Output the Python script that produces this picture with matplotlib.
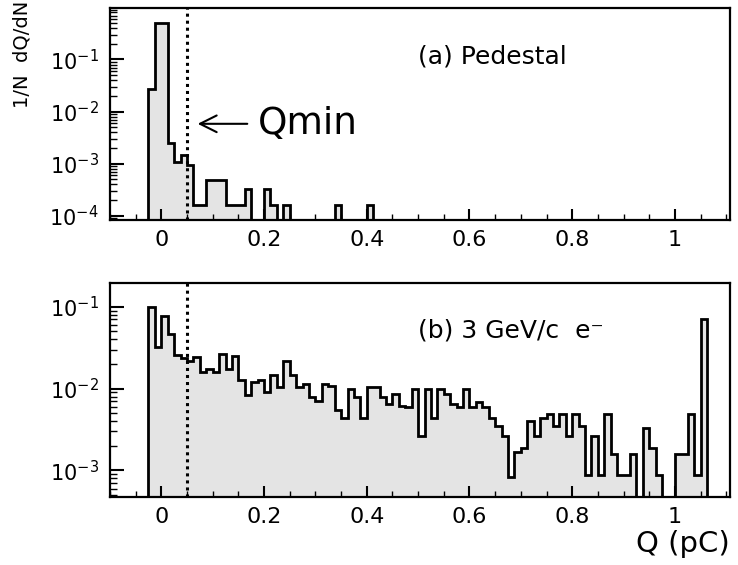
import numpy as np
import matplotlib.pyplot as plt
from matplotlib.ticker import LogLocator, MultipleLocator, NullFormatter, LogFormatterSciNotation

# histogram binning (pC)
q_start = -0.025
bin_width = 0.0125

# (a) pedestal run, 1/N dQ/dN per bin
pedestal = [0.0265, 0.51, 0.51, 0.0025, 0.00105, 0.00148, 0.00095, 1.6e-4, 1.6e-4, 4.9e-4,
            4.9e-4, 4.9e-4, 1.6e-4, 1.6e-4, 1.6e-4, 3.2e-4, 0, 0, 3.2e-4, 1.6e-4,
            0, 1.6e-4, 0, 0, 0, 0, 0, 0, 0, 1.6e-4,
            0, 0, 0, 0, 1.6e-4, 0, 0, 0, 0, 0,
            0, 0, 0, 0, 0, 0, 0, 0, 0, 0,
            0, 0, 0, 0, 0, 0, 0, 0, 0, 0,
            0, 0, 0, 0, 0, 0, 0, 0, 0, 0,
            0, 0, 0, 0, 0, 0, 0, 0, 0, 0,
            0, 0, 0, 0, 0, 0, 0]

# (b) 3 GeV/c electrons
electron = [0.099, 0.032, 0.078, 0.046, 0.0256, 0.0235, 0.022, 0.024, 0.0159, 0.0175,
            0.0159, 0.0268, 0.0175, 0.0249, 0.0126, 0.0084, 0.0120, 0.0126, 0.0090, 0.0145,
            0.0104, 0.022, 0.0145, 0.0104, 0.0114, 0.0080, 0.0071, 0.0114, 0.0109, 0.0054,
            0.0044, 0.0099, 0.0078, 0.0044, 0.0106, 0.0104, 0.0078, 0.0065, 0.0086, 0.0062,
            0.0059, 0.0099, 0.0026, 0.0099, 0.0044, 0.0099, 0.0086, 0.0065, 0.0059, 0.0099,
            0.0059, 0.0068, 0.0059, 0.0044, 0.0035, 0.0026, 0.00082, 0.0017, 0.0019, 0.0040,
            0.0026, 0.0044, 0.0049, 0.0035, 0.0049, 0.0026, 0.0049, 0.0035, 0.00089, 0.0026,
            0.00089, 0.0049, 0.0016, 0.00089, 0.00089, 0.0016, 0, 0.0033, 0.0019, 0.00089,
            0, 0, 0.0016, 0.0016, 0.0049, 0.00089, 0.070]

q_min = 0.05
xticks = [0, 0.2, 0.4, 0.6, 0.8, 1]
xtick_labels = ['0', '0.2', '0.4', '0.6', '0.8', '1']

edges = q_start + bin_width * np.arange(len(electron) + 1)

plt.rcParams['font.family'] = 'DejaVu Sans'
fig = plt.figure(figsize=(7.38, 5.65), dpi=100)
ax_a = fig.add_axes([0.149, 0.611, 0.840, 0.375])
ax_b = fig.add_axes([0.149, 0.120, 0.840, 0.379])


def draw_hist(ax, vals, ylim):
    floor = ylim[0] * 0.3
    v = np.where(np.array(vals) > 0, vals, floor)
    ax.stairs(v, edges, baseline=floor, fill=True, color='#e4e4e4', lw=0)
    ax.stairs(v, edges, baseline=floor, color='black', lw=2.0)
    ax.axvline(q_min, color='black', ls=(0, (1, 1.3)), lw=2.2)
    ax.set_yscale('log')
    ax.set_xlim(-0.1, 1.107)
    ax.set_ylim(*ylim)
    ax.yaxis.set_major_locator(LogLocator(base=10, numticks=10))
    ax.yaxis.set_major_formatter(LogFormatterSciNotation())
    ax.yaxis.set_minor_locator(LogLocator(base=10, subs=np.arange(2, 10), numticks=20))
    ax.yaxis.set_minor_formatter(NullFormatter())
    ax.set_xticks(xticks)
    ax.set_xticklabels(xtick_labels)
    ax.xaxis.set_minor_locator(MultipleLocator(0.05))
    ax.tick_params(which='both', direction='in', top=False, right=False)
    ax.tick_params(axis='y', which='major', length=10, width=1.5, pad=8, labelsize=15)
    ax.tick_params(axis='y', which='minor', length=5, width=1.0)
    ax.tick_params(axis='x', which='major', length=8, width=1.5, pad=7, labelsize=16)
    ax.tick_params(axis='x', which='minor', length=4, width=1.0)
    for s in ax.spines.values():
        s.set_linewidth(1.6)


draw_hist(ax_a, pedestal, (8.3e-5, 0.98))
draw_hist(ax_b, electron, (4.7e-4, 0.195))

ax_a.text(0.497, 0.77, '(a) Pedestal', transform=ax_a.transAxes, fontsize=18, ha='left', va='center')
ax_a.text(0.239, 0.453, 'Qmin', transform=ax_a.transAxes, fontsize=27, ha='left', va='center')
ax_a.annotate('', xy=(0.137, 0.453), xytext=(0.226, 0.453), xycoords='axes fraction',
              arrowprops=dict(arrowstyle='->', lw=1.5, mutation_scale=30, color='black'))
ax_b.text(0.497, 0.78, '(b) 3 GeV/c  e\u207b', transform=ax_b.transAxes, fontsize=18, ha='left', va='center')

fig.text(0.030, 0.903, '1/N  dQ/dN', rotation=90, fontsize=14, ha='center', va='center')
fig.text(0.989, 0.037, 'Q (pC)', fontsize=21, ha='right', va='center')

fig.savefig('out.png', dpi=100)
